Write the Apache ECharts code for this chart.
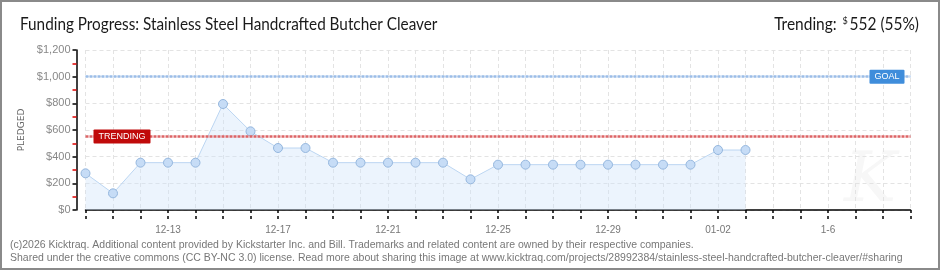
<!DOCTYPE html>
<html>
<head>
<meta charset="utf-8">
<script src="https://cdn.jsdelivr.net/npm/echarts@6/dist/echarts.min.js"></script>
<style>
html,body{margin:0;padding:0;background:#fff;}
#c{width:940px;height:270px;box-sizing:border-box;border:2px solid #8a8a8a;}
</style>
</head>
<body>
<div id="c"></div>
<script>
const titleText = 'Funding Progress: Stainless Steel Handcrafted Butcher Cleaver';
const dates = ['12-10','12-11','12-12','12-13','12-14','12-15','12-16','12-17','12-18','12-19','12-20','12-21','12-22','12-23','12-24','12-25','12-26','12-27','12-28','12-29','12-30','12-31','01-01','01-02','01-03','01-04','01-05','1-6','01-07','01-08','01-09'];
const pledged = [275,125,355,355,355,795,590,465,465,355,355,355,355,355,230,340,340,340,340,340,340,340,340,450,450];
const goal = 1000;
const trending = 552;
const trendingPct = 55;
const footer = ['(c)2026 Kicktraq. Additional content provided by Kickstarter Inc. and Bill. Trademarks and related content are owned by their respective companies.',
 'Shared under the creative commons (CC BY-NC 3.0) license. Read more about sharing this image at www.kicktraq.com/projects/28992384/stainless-steel-handcrafted-butcher-cleaver/#sharing'];

const chart = echarts.init(document.getElementById('c'), null, {renderer:'canvas'});
const labelFmt = (i) => i % 4 === 3;
chart.setOption({
  animation:false,
  graphic:[
    {type:'text',x:18,y:14,scaleX:0.9,style:{text:titleText,fill:'#1a1a1a',font:'17px "Lato"'}},
    {type:'text',x:917,y:14,scaleX:0.91,style:{text:'{a|Trending: }{s|$}{a|' + trending + ' (' + trendingPct + '%)}',align:'right',
      rich:{a:{font:'17px "Lato"',fill:'#1a1a1a'},s:{font:'10px "Lato"',fill:'#1a1a1a',verticalAlign:'top',padding:[0,2,8,2]}}}},
    {type:'text',left:8,top:237,style:{text:footer.join('\n'),fill:'#777',font:'10.5px "Liberation Sans"',lineHeight:13}},
    {type:'text',left:842,top:146,z:-1,style:{text:'K',fill:'#f7f7f7',font:'italic 70px "DejaVu Serif"'}}
  ],
  grid:{left:83.5,right:27.5,top:48,bottom:58},
  xAxis:[{
    type:'category',data:dates,boundaryGap:false,offset:9,
    axisLine:{lineStyle:{color:'#000',width:1.5}},
    axisTick:{show:true,interval:0,length:3,lineStyle:{color:'#000',width:1.5}},
    axisLabel:{interval:labelFmt,color:'#777',fontFamily:'Liberation Sans',fontSize:10,margin:6},
    splitLine:{show:true,interval:0,lineStyle:{color:'#e3e3e3',type:[4,3]}}
  },{
    type:'category',data:dates,boundaryGap:false,offset:9,position:'bottom',
    axisLine:{show:false},
    axisTick:{show:true,interval:0,inside:true,length:3,lineStyle:{color:'#000',width:1.5}},
    axisLabel:{show:false},splitLine:{show:false}
  }],
  yAxis:{
    type:'value',min:0,max:1200,interval:200,offset:9,
    name:'PLEDGED',nameLocation:'middle',nameGap:49,
    nameTextStyle:{color:'#666',fontFamily:'DejaVu Sans',fontSize:9},
    axisLine:{show:true,lineStyle:{color:'#000',width:1.5}},
    axisTick:{show:true,length:4,lineStyle:{color:'#000',width:1.5}},
    minorTick:{show:true,splitNumber:2,length:4,lineStyle:{color:'#e00000',width:1.5}},
    axisLabel:{color:'#888',fontFamily:'Liberation Sans',fontSize:11,margin:6,
      formatter:(v)=>'$' + v.toLocaleString('en-US')},
    splitLine:{show:true,lineStyle:{color:'#e3e3e3',type:[4,3]}}
  },
  series:[{
    type:'line',data:pledged,
    symbol:'circle',symbolSize:9,
    lineStyle:{color:'#bcd6f2',width:1},
    itemStyle:{color:'#c6dcf6',borderColor:'#94b6dd',borderWidth:1},
    areaStyle:{color:'#cfe3fa',opacity:0.4},
    markLine:{
      silent:true,symbol:'none',
      data:[
        {yAxis:goal,lineStyle:{color:'#9bbde8',type:[3,1],width:2.5},
         label:{show:true,position:'insideEnd',distance:[6,0],formatter:'GOAL',color:'#fff',backgroundColor:'#3f8ddb',
           fontFamily:'Liberation Sans',fontSize:9,padding:[2,5,2,5],lineHeight:10,borderRadius:1}},
        {yAxis:trending,lineStyle:{color:'#dd6466',type:[3,1],width:2.5},
         label:{show:true,position:'insideStart',distance:[8,0],formatter:'TRENDING',color:'#fff',backgroundColor:'#c00a0a',
           fontFamily:'Liberation Sans',fontSize:9,padding:[2,5,2,5],lineHeight:10,borderRadius:1}}
      ]
    }
  }]
});
</script>
</body>
</html>
